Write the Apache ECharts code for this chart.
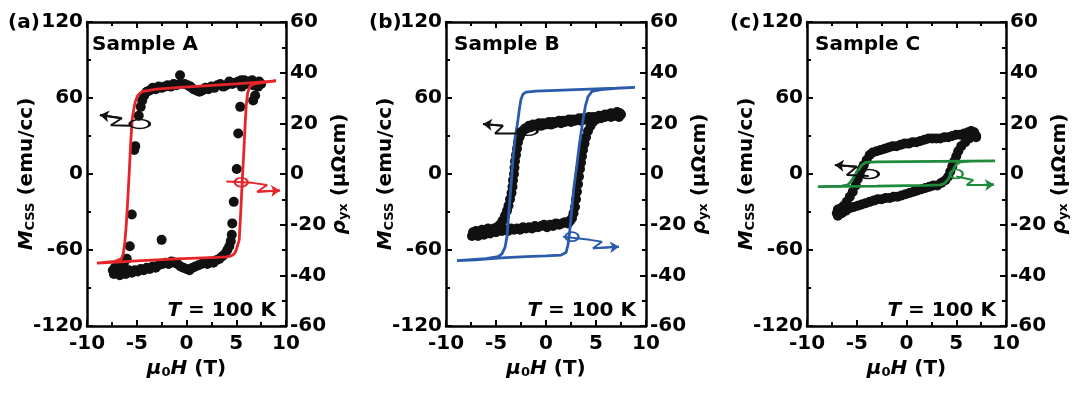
<!DOCTYPE html>
<html>
<head>
<meta charset="utf-8">
<script src="https://cdn.jsdelivr.net/npm/echarts@6/dist/echarts.min.js"></script>
<style>
  html, body { margin: 0; padding: 0; background: #fff; }
  #chart { width: 1081px; height: 396px; }
</style>
</head>
<body>
<div id="chart"></div>
<script>
// magnetisation points [H (T), M (emu/cc)]
const dotsA = [
  [7.5,71],[7.3,73],[7.1,70],[6.9,72],[6.9,62],[6.7,58],[6.6,74],[6.4,72],[6.2,73],[6.0,71],[5.8,74],[5.5,74],
  [5.2,73],[4.9,72],[4.6,71],[4.3,73],[4.0,70],[3.7,69],[3.4,71],[3.1,70],[2.8,68],[2.5,69],[2.2,67],[1.9,68],
  [1.6,66],[1.3,65],[1.0,66],[0.7,67],[0.4,69],[0.1,70],[-0.2,71],[-0.65,78],[-0.7,71],[-1.0,70],[-1.3,71],
  [-1.6,69],[-1.9,70],[-2.2,69],[-2.5,68],[-2.8,69],[-3.1,67],[-3.4,68],[-3.7,66],[-4.0,65],[-4.25,62],[-4.45,58],
  [-4.6,53],[-4.8,46],[-5.15,22],[-5.25,19],[-5.5,-32],[-5.7,-57],[-6.0,-67],[-6.3,-71],[-6.6,-73],[-6.9,-75],
  [-7.2,-74],[-7.4,-76],
  [-7.3,-79],[-7.0,-78],[-6.7,-80],[-6.4,-77],[-6.1,-79],[-5.8,-76],[-5.5,-78],[-5.2,-76],[-4.9,-77],[-4.6,-75],
  [-4.3,-76],[-4.0,-74],[-3.7,-75],[-3.4,-73],[-3.1,-74],[-2.8,-72],[-2.5,-52],[-2.4,-71],[-2.1,-70],[-1.8,-71],
  [-1.5,-69],[-1.2,-70],[-0.9,-71],[-0.6,-73],[-0.3,-74],[0.0,-75],[0.3,-76],[0.6,-74],[0.9,-73],[1.2,-72],
  [1.5,-71],[1.8,-70],[2.1,-71],[2.4,-69],[2.7,-70],[3.0,-68],[3.3,-67],[3.6,-65],[3.9,-63],[4.1,-60],[4.3,-57],
  [4.45,-53],[4.55,-48],[4.6,-39],[4.75,-22],[5.05,4],[5.2,32],[5.4,53],[5.55,69],[6.2,72],[6.7,70],[7.2,69]
]
const dotsB = [
  [7.5,47],[7.3,45],[7.1,48],[6.9,46],[6.7,47],[6.5,45],[6.3,47],[6.1,46],[5.9,45],[5.7,46],[5.5,44],[5.3,46],
  [5.1,45],[4.9,44],[4.7,45],[4.5,43],[4.3,45],[4.1,44],[3.9,43],[3.7,44],[3.5,42],[3.3,44],[3.1,43],[2.9,42],
  [2.7,43],[2.5,41],[2.3,43],[2.1,42],[1.9,41],[1.7,42],[1.5,40],[1.3,42],[1.1,41],[0.9,40],[0.7,41],[0.5,39],
  [0.3,41],[0.1,40],[-0.1,39],[-0.3,40],[-0.5,38],[-0.7,40],[-0.9,39],[-1.1,38],[-1.3,39],[-1.5,37],[-1.7,38],
  [-1.9,36],[-2.1,36],[-2.3,34],[-2.5,32],[-2.65,29],[-2.8,25],[-2.9,20],[-3.0,15],[-3.1,10],[-3.15,5],[-3.2,0],
  [-3.3,-5],[-3.35,-10],[-3.45,-15],[-3.6,-20],[-3.75,-25],[-3.9,-29],[-4.1,-33],[-4.35,-37],[-4.6,-40],
  [-4.9,-42],[-5.2,-43],[-5.5,-44],[-5.8,-43],[-6.1,-45],[-6.4,-44],[-6.7,-46],[-7.0,-45],[-7.3,-46],
  [-7.4,-49],[-7.1,-48],[-6.8,-49],[-6.5,-47],[-6.2,-48],[-5.9,-46],[-5.6,-47],[-5.3,-45],[-5.0,-46],[-4.7,-44],
  [-4.4,-45],[-4.1,-44],[-3.8,-45],[-3.5,-43],[-3.2,-44],[-2.9,-43],[-2.6,-44],[-2.3,-42],[-2.0,-43],[-1.7,-42],
  [-1.4,-43],[-1.1,-41],[-0.8,-42],[-0.5,-41],[-0.2,-40],[0.1,-42],[0.4,-40],[0.7,-41],[1.0,-39],[1.3,-40],
  [1.6,-39],[1.9,-38],[2.2,-39],[2.4,-37],[2.6,-35],[2.75,-31],[2.9,-26],[3.0,-20],[3.1,-14],[3.2,-8],[3.3,-2],
  [3.4,4],[3.5,9],[3.6,14],[3.7,19],[3.85,24],[4.0,29],[4.2,34],[4.45,38],[4.7,41],[5.0,43],[5.3,44],[5.6,45],
  [5.9,47],[6.2,46],[6.5,48],[6.8,47],[7.1,49],[7.4,48]
]
const dotsC = [
  [7.0,30],[6.8,33],[6.5,34],[6.2,33],[5.8,32],[5.4,31],[5.0,31],[4.6,30],[4.2,29],[3.8,29],[3.4,28],[3.0,28],
  [2.6,28],[2.2,28],[1.8,27],[1.4,26],[1.0,25],[0.6,25],[0.2,24],[-0.2,24],[-0.6,23],[-1.0,22],[-1.4,22],
  [-1.8,21],[-2.2,20],[-2.6,19],[-3.0,18],[-3.4,17],[-3.7,15],[-4.0,11],[-4.3,7],[-4.5,4],[-4.7,0],[-4.9,-4],
  [-5.1,-9],[-5.4,-14],[-5.7,-18],[-6.0,-22],[-6.3,-25],[-6.6,-27],[-6.9,-28],[-7.0,-31],
  [-6.9,-33],[-6.5,-31],[-6.1,-29],[-5.7,-27],[-5.3,-26],[-4.9,-25],[-4.5,-24],[-4.1,-23],[-3.7,-22],[-3.3,-21],
  [-2.9,-20],[-2.5,-20],[-2.1,-19],[-1.7,-19],[-1.3,-18],[-0.9,-18],[-0.5,-17],[-0.1,-16],[0.3,-15],[0.7,-14],
  [1.1,-13],[1.5,-12],[1.9,-11],[2.3,-10],[2.7,-9],[3.1,-9],[3.5,-7],[3.9,-5],[4.2,-2],[4.4,2],[4.6,6],[4.8,10],
  [5.0,14],[5.2,18],[5.5,22],[5.9,25],[6.3,28],[6.7,31],[7.0,29]
]

// Hall resistivity loops [H (T), rho_yx (µΩcm)]
const rhoA = [
  [-9.0,-35.2],[-7,-34.8],[-5,-34.3],[-3,-33.9],[-1,-33.5],[1,-33.2],[3,-32.9],[4.0,-32.7],[4.5,-32.3],[4.8,-31.5],
  [5.0,-30],[5.15,-28],[5.3,-26],[5.45,-15],[5.6,-3],[5.75,8],[5.9,20],[6.0,27],[6.15,32],[6.35,34.6],[6.8,35.6],
  [8,36.3],[9.0,36.8],
  [7,36.2],[5,35.6],[3,35.1],[1,34.6],[-1,34.1],[-3,33.5],[-4.5,32.5],[-4.9,31],[-5.15,28.5],[-5.3,25.5],
  [-5.45,22],[-5.6,13],[-5.75,1],[-5.9,-10],[-6.05,-20],[-6.2,-27],[-6.35,-31.5],[-6.55,-33.5],[-7.2,-34.5],[-9.0,-35.2]
]
const rhoB = [
  [-8.9,-34.2],[-7,-33.9],[-5.5,-33.4],[-4,-33],[-2,-32.6],[0,-32.3],[1.5,-32],[2.0,-31],[2.2,-28],[2.35,-23.4],
  [2.55,-15],[2.8,-5],[3.07,3],[3.35,12],[3.7,21.3],[3.95,27],[4.2,30.5],[4.6,32.6],[5.5,33.3],[7,33.8],[8.9,34.2],
  [7,33.9],[5,33.6],[3,33.3],[1,33.0],[-1,32.7],[-2.0,32.3],[-2.3,31.5],[-2.5,29.5],[-2.65,26],[-2.85,20],
  [-3.1,14],[-3.3,6],[-3.5,-4.5],[-3.7,-14.5],[-3.9,-24.7],[-4.1,-29],[-4.4,-31.5],[-4.8,-32.6],[-6,-33.4],[-8.9,-34.2]
]
const rhoC = [
  [-8.9,-5.0],[-6,-4.9],[-3,-4.8],[0,-4.6],[2,-4.5],[3.4,-4.3],[3.8,-3.8],[4.2,-2],[4.6,1],[5.0,3.8],[5.4,4.8],
  [6.5,5.1],[8.9,5.2],
  [6,5.1],[3,5.0],[0,4.9],[-3,4.8],[-4.1,4.6],[-4.5,3.5],[-5.0,0.5],[-5.5,-2.5],[-5.9,-4.3],[-6.5,-4.8],[-8.9,-5.0]
]

// axis-pointer arrows and rings, in [H, M] units
const arrowMA = [[-5.6,38],[-7.6,38.5],[-6.5,44],[-8.7,46.5]]
const ringMA = [-4.7,39.5]
const arrowRA = [[4.0,-6],[6.6,-7],[8.1,-8.7],[7.1,-14],[9.4,-13]]
const ringRA = [5.5,-6.5]
const arrowMB = [[-2.9,32],[-5.1,32],[-4.3,38],[-6.3,39.5]]
const ringMB = [-1.85,34]
const arrowRB = [[1.7,-49.5],[4.4,-52],[5.6,-53.4],[4.7,-58.6],[7.3,-57.4]]
const ringRB = [2.6,-49.5]
const arrowMC = [[-3.8,-1.6],[-6.0,-0.8],[-5.0,5.8],[-7.2,7.1]]
const ringMC = [-3.8,0]
const arrowRC = [[5.0,-2],[6.7,-4.7],[6.05,-8.7],[7.7,-8.7],[8.8,-8.2]]
const ringRC = [5.0,0]

const xTicks = { min: -10, max: 10, interval: 5 }
const mTicks = { min: -120, max: 120, interval: 60 }
const rTicks = { min: -60, max: 60, interval: 20 }

const FONT = 'DejaVu Sans'
const FS = 20
const panels = [
  { tag: '(a)', tagX: 8, sample: 'Sample A', sampleX: 92, left: 87, width: 199, dots: dotsA, rho: rhoA, color: '#e6252a',
    arrowM: arrowMA, ringM: ringMA, arrowR: arrowRA, ringR: ringRA },
  { tag: '(b)', tagX: 369, sample: 'Sample B', sampleX: 454, left: 446, width: 200, dots: dotsB, rho: rhoB, color: '#2b5bab',
    arrowM: arrowMB, ringM: ringMB, arrowR: arrowRB, ringR: ringRB },
  { tag: '(c)', tagX: 730, sample: 'Sample C', sampleX: 815, left: 807, width: 199, dots: dotsC, rho: rhoC, color: '#1f8a3b',
    arrowM: arrowMC, ringM: ringMC, arrowR: arrowRC, ringR: ringRC }
]
const TOP = 22
const HEIGHT = 304

const nameStyle = {
  fontFamily: FONT, fontSize: FS, fontWeight: 'bold', color: '#000',
  rich: {
    i: { fontFamily: FONT, fontSize: FS, fontWeight: 'bold', fontStyle: 'italic', color: '#000' },
    s: { fontFamily: FONT, fontSize: 13, fontWeight: 'bold', color: '#000', verticalAlign: 'bottom', lineHeight: 8 }
  }
}
const labelStyle = { fontFamily: FONT, fontSize: FS, fontWeight: 'bold', color: '#000' }
const lineStyle = { color: '#000', width: 2.5 }

function axisBase(i) {
  return {
    gridIndex: i,
    type: 'value',
    splitLine: { show: false },
    axisLine: { onZero: false, lineStyle },
    axisTick: { inside: true, length: 6, lineStyle: { color: '#000', width: 2 } },
    minorTick: { show: true, splitNumber: 2, length: 4, lineStyle: { color: '#000', width: 2 } }
  }
}

const grid = []
const xAxis = []
const yAxis = []
const series = []
const graphic = []

function arrowSeries(i, pts, color) {
  return {
    type: 'line', xAxisIndex: 2 * i, yAxisIndex: 2 * i, data: pts,
    symbol: 'none', z: 4, silent: true,
    lineStyle: { color, width: 2 },
    markLine: {
      silent: true, symbol: ['none', 'arrow'], symbolSize: 9,
      label: { show: false },
      lineStyle: { color, width: 2, type: 'solid' },
      data: [[{ coord: pts[pts.length - 2] }, { coord: pts[pts.length - 1] }]]
    }
  }
}

function ringSeries(i, c, color, size) {
  return {
    type: 'scatter', xAxisIndex: 2 * i, yAxisIndex: 2 * i, data: [c],
    symbol: 'circle', symbolSize: size, z: 4, silent: true,
    itemStyle: { color: 'rgba(0,0,0,0)', borderColor: color, borderWidth: 2, opacity: 1 }
  }
}

panels.forEach((p, i) => {
  grid.push({ left: p.left, top: TOP, width: p.width, height: HEIGHT })

  xAxis.push({
    ...axisBase(i), ...xTicks, position: 'bottom',
    name: '{i|μ}{s|0}{i|H} (T)', nameLocation: 'middle', nameGap: 32, nameTextStyle: nameStyle,
    axisLabel: { ...labelStyle, margin: 8 }
  })
  xAxis.push({ ...axisBase(i), ...xTicks, position: 'top', axisLabel: { show: false } })

  yAxis.push({
    ...axisBase(i), ...mTicks, position: 'left',
    name: '{i|M}{s|CSS} (emu/cc)', nameLocation: 'middle', nameRotate: 90, nameGap: 50,
    nameMoveOverlap: false, nameTextStyle: nameStyle,
    axisLabel: { ...labelStyle, margin: 4 }
  })
  yAxis.push({
    ...axisBase(i), ...rTicks, position: 'right',
    name: '{i|ρ}{s|yx} (μΩcm)', nameLocation: 'middle', nameRotate: 90, nameGap: 43, nameTextStyle: nameStyle,
    axisLabel: { ...labelStyle, margin: 4 }
  })

  series.push({
    type: 'scatter', xAxisIndex: 2 * i, yAxisIndex: 2 * i, data: p.dots,
    symbolSize: 10, itemStyle: { color: '#111', opacity: 1 }, z: 2
  })
  series.push({
    type: 'line', xAxisIndex: 2 * i, yAxisIndex: 2 * i + 1, data: p.rho,
    symbol: 'none', z: 3, lineStyle: { color: p.color, width: 2.8 }
  })
  series.push(arrowSeries(i, p.arrowM, '#111'))
  series.push(ringSeries(i, p.ringM, '#111', [20, 9]))
  series.push(arrowSeries(i, p.arrowR, p.color))
  series.push(ringSeries(i, p.ringR, p.color, [13, 9]))

  graphic.push({
    type: 'text', left: p.tagX, top: 13,
    style: { text: p.tag, font: `bold ${FS}px "${FONT}"`, fill: '#000' }
  })
  graphic.push({
    type: 'text', x: p.sampleX, y: 45,
    style: { text: p.sample, font: `bold ${FS}px "${FONT}"`, fill: '#000', verticalAlign: 'middle' }
  })
  graphic.push({
    type: 'text', x: p.left + p.width - 10, y: 311,
    style: {
      text: '{i|T} = 100 K', font: `bold ${FS}px "${FONT}"`, fill: '#000', align: 'right', verticalAlign: 'middle',
      rich: { i: { fontFamily: FONT, fontSize: FS, fontWeight: 'bold', fontStyle: 'italic', fill: '#000' } }
    }
  })
})

const chart = echarts.init(document.getElementById('chart'))
chart.setOption({
  animation: false,
  backgroundColor: '#fff',
  grid, xAxis, yAxis, series, graphic
})
</script>
</body>
</html>
